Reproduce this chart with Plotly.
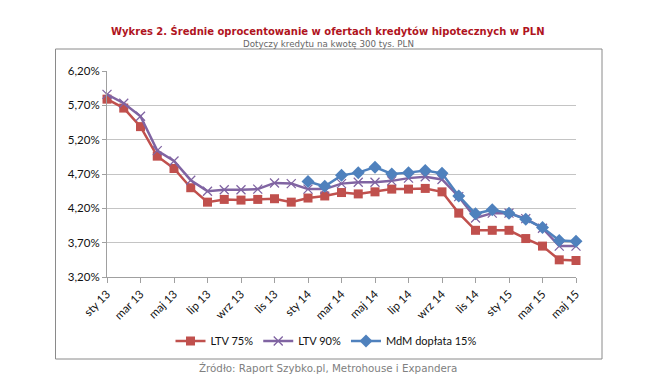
import plotly.graph_objects as go

# ---- data ----
months = ["sty 13", "lut 13", "mar 13", "kwi 13", "maj 13", "cze 13", "lip 13", "sie 13",
          "wrz 13", "paź 13", "lis 13", "gru 13", "sty 14", "lut 14", "mar 14", "kwi 14",
          "maj 14", "cze 14", "lip 14", "sie 14", "wrz 14", "paź 14", "lis 14", "gru 14",
          "sty 15", "lut 15", "mar 15", "kwi 15", "maj 15"]
tick_labels = months[::2]

ltv75 = [5.79, 5.66, 5.39, 4.96, 4.78, 4.50, 4.29, 4.33, 4.32, 4.33, 4.34, 4.29, 4.35, 4.38,
         4.43, 4.41, 4.44, 4.48, 4.48, 4.49, 4.44, 4.13, 3.88, 3.88, 3.88, 3.76, 3.65, 3.45, 3.44]
ltv90 = [5.86, 5.73, 5.54, 5.04, 4.89, 4.61, 4.45, 4.47, 4.47, 4.48, 4.57, 4.56, 4.48, 4.48,
         4.56, 4.58, 4.58, 4.60, 4.64, 4.66, 4.62, 4.37, 4.06, 4.13, 4.13, 4.05, 3.91, 3.65, 3.65]
mdm = [None] * 12 + [4.59, 4.52, 4.68, 4.72, 4.80, 4.70, 4.72, 4.75, 4.71, 4.38, 4.12, 4.18,
                     4.13, 4.04, 3.92, 3.73, 3.72]

y_ticks = [3.20, 3.70, 4.20, 4.70, 5.20, 5.70, 6.20]
y_tick_text = [f"{v:.2f}%".replace(".", ",") for v in y_ticks]

title = "Wykres 2. Średnie oprocentowanie w ofertach kredytów hipotecznych w PLN"
subtitle = "Dotyczy kredytu na kwotę 300 tys. PLN"
source = "Źródło: Raport Szybko.pl, Metrohouse i Expandera"

RED = "#C0504D"
PURPLE = "#8064A2"
BLUE = "#4F81BD"
FONT = "Lato"

fig = go.Figure()
fig.add_trace(go.Scatter(
    x=months, y=ltv75, name="LTV 75%", mode="lines+markers",
    line=dict(color=RED, width=2.5),
    marker=dict(symbol="square", size=9, color=RED),
    cliponaxis=False))
fig.add_trace(go.Scatter(
    x=months, y=ltv90, name="LTV 90%", mode="lines+markers",
    line=dict(color=PURPLE, width=2.5),
    marker=dict(symbol="x-thin", size=9, color=PURPLE, line=dict(color=PURPLE, width=1.3)),
    cliponaxis=False))
fig.add_trace(go.Scatter(
    x=months, y=mdm, name="MdM dopłata 15%", mode="lines+markers",
    line=dict(color=BLUE, width=2.5),
    marker=dict(symbol="diamond", size=10, color=BLUE),
    cliponaxis=False))

# plot area in pixels: x 107..576, y 71..277
L, R, T, B = 107, 576, 71, 277
W, H = R - L, B - T


def px(x):
    return (x - L) / W


def py(y):
    return (B - y) / H


fig.update_layout(
    width=646, height=392,
    margin=dict(l=L, r=646 - R, t=T, b=392 - B, pad=0),
    paper_bgcolor="white", plot_bgcolor="white",
    font=dict(family=FONT, size=11, color="#111"),
    showlegend=True,
    legend=dict(orientation="h", x=px(326), xanchor="center", y=py(341), yanchor="middle",
                font=dict(family=FONT, size=11, color="#111"), itemwidth=30,
                bgcolor="rgba(0,0,0,0)"),
    xaxis=dict(
        type="category", range=[0, len(months) - 1],
        tickmode="array", tickvals=tick_labels, ticktext=tick_labels,
        tickangle=-45, ticks="outside", ticklen=5, tickcolor="#A0A0A0",
        showline=True, linecolor="#A0A0A0", linewidth=1,
        showgrid=False, zeroline=False,
        tickfont=dict(family=FONT, size=11.5, color="#111"),
    ),
    yaxis=dict(
        range=[3.20, 6.20], tickmode="array", tickvals=y_ticks, ticktext=y_tick_text,
        ticks="outside", ticklen=4, tickcolor="#A0A0A0",
        showline=True, linecolor="#A0A0A0", linewidth=1,
        showgrid=True, gridcolor="#C4C4C4", gridwidth=1, zeroline=False,
        tickfont=dict(family=FONT, size=11.5, color="#111"),
    ),
    shapes=[dict(type="rect", xref="paper", yref="paper",
                 x0=px(55.5), x1=px(602), y0=py(359), y1=py(49),
                 line=dict(color="#8A8A8A", width=1), fillcolor="rgba(0,0,0,0)", layer="below")],
    annotations=[
        dict(text=f"<b>{title}</b>", xref="paper", yref="paper", x=px(328), y=py(31),
             xanchor="center", yanchor="middle", showarrow=False,
             font=dict(family="DejaVu Sans", size=10, color="#B0141E")),
        dict(text=subtitle, xref="paper", yref="paper", x=px(328), y=py(44),
             xanchor="center", yanchor="middle", showarrow=False,
             font=dict(family="DejaVu Sans", size=8.7, color="#666")),
        dict(text=source, xref="paper", yref="paper", x=px(327.5), y=py(368),
             xanchor="center", yanchor="middle", showarrow=False,
             font=dict(family="DejaVu Sans", size=10.3, color="#808080")),
    ],
)

fig.write_html("out.html", config={"displayModeBar": False},
               post_script="document.body.style.margin='0';")
